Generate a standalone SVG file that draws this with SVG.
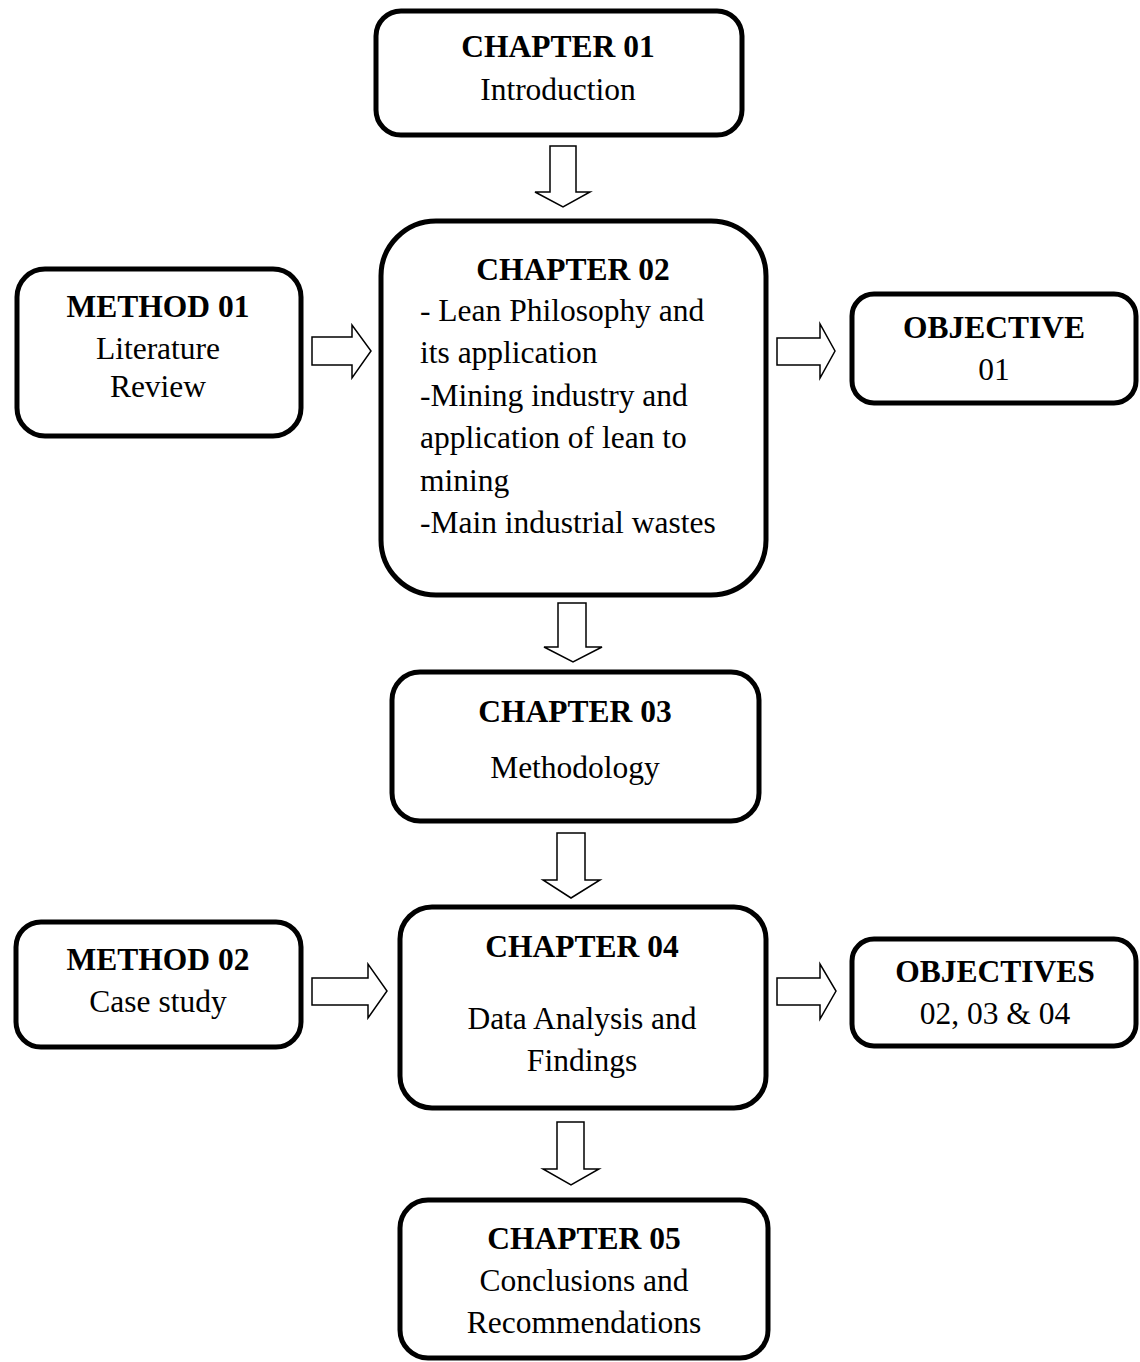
<svg xmlns="http://www.w3.org/2000/svg" width="1140" height="1362" viewBox="0 0 1140 1362">
<style>
.box{fill:#fff;stroke:#000;stroke-width:5}
.arr{fill:#fff;stroke:#000;stroke-width:1.5;stroke-linejoin:miter}
text{font-family:"Liberation Serif","Times New Roman",serif;font-size:31.5px;fill:#000}
.b{font-weight:bold}
.c{text-anchor:middle}
</style>
<rect width="1140" height="1362" fill="#fff"/>
<g id="connectors">
<polygon class="arr" points="550,146 576,146 576,192 590,192 563,207 535,192 550,192"/>
<polygon class="arr" points="558,603 586,603 586,647 602,647 573,662 544,647 558,647"/>
<polygon class="arr" points="557,833 585,833 585,880 600,880 571,898 543,880 557,880"/>
<polygon class="arr" points="557,1122 584,1122 584,1169 599,1169 571,1185 543,1169 557,1169"/>
<polygon class="arr" points="312,337 352,337 352,325 371,351 352,378 352,365 312,365"/>
<polygon class="arr" points="777,338 820,338 820,324 835,351 820,378 820,365 777,365"/>
<polygon class="arr" points="312,978 368,978 368,964 387,991 368,1018 368,1005 312,1005"/>
<polygon class="arr" points="777,978 820,978 820,964 836,991 820,1019 820,1005 777,1005"/>
</g>
<g id="ch01">
<rect class="box" x="376" y="11" width="366" height="124" rx="25"/>
<text class="b c" x="558" y="57">CHAPTER 01</text>
<text class="c" x="558" y="100">Introduction</text>
</g>
<g id="ch02">
<rect class="box" x="381" y="221" width="385" height="374" rx="55"/>
<text class="b c" x="573" y="280">CHAPTER 02</text>
<text x="420" y="321">- Lean Philosophy and</text>
<text x="420" y="363">its application</text>
<text x="420" y="406">-Mining industry and</text>
<text x="420" y="448">application of lean to</text>
<text x="420" y="491">mining</text>
<text x="420" y="533">-Main industrial wastes</text>
</g>
<g id="method01">
<rect class="box" x="17" y="269" width="284" height="167" rx="28"/>
<text class="b c" x="158" y="317">METHOD 01</text>
<text class="c" x="158" y="359">Literature</text>
<text class="c" x="158" y="397">Review</text>
</g>
<g id="objective01">
<rect class="box" x="852" y="294" width="284" height="109" rx="22"/>
<text class="b c" x="994" y="338">OBJECTIVE</text>
<text class="c" x="994" y="380">01</text>
</g>
<g id="ch03">
<rect class="box" x="392" y="672" width="367" height="149" rx="28"/>
<text class="b c" x="575" y="722">CHAPTER 03</text>
<text class="c" x="575" y="778">Methodology</text>
</g>
<g id="method02">
<rect class="box" x="16" y="922" width="285" height="125" rx="25"/>
<text class="b c" x="158" y="970">METHOD 02</text>
<text class="c" x="158" y="1012">Case study</text>
</g>
<g id="ch04">
<rect class="box" x="400" y="907" width="366" height="201" rx="32"/>
<text class="b c" x="582" y="957">CHAPTER 04</text>
<text class="c" x="582" y="1029">Data Analysis and</text>
<text class="c" x="582" y="1071">Findings</text>
</g>
<g id="objectives">
<rect class="box" x="852" y="939" width="284" height="107" rx="22"/>
<text class="b c" x="995" y="982">OBJECTIVES</text>
<text class="c" x="995" y="1024">02, 03 &amp; 04</text>
</g>
<g id="ch05">
<rect class="box" x="400" y="1200" width="368" height="158" rx="28"/>
<text class="b c" x="584" y="1249">CHAPTER 05</text>
<text class="c" x="584" y="1291">Conclusions and</text>
<text class="c" x="584" y="1333">Recommendations</text>
</g>
</svg>
